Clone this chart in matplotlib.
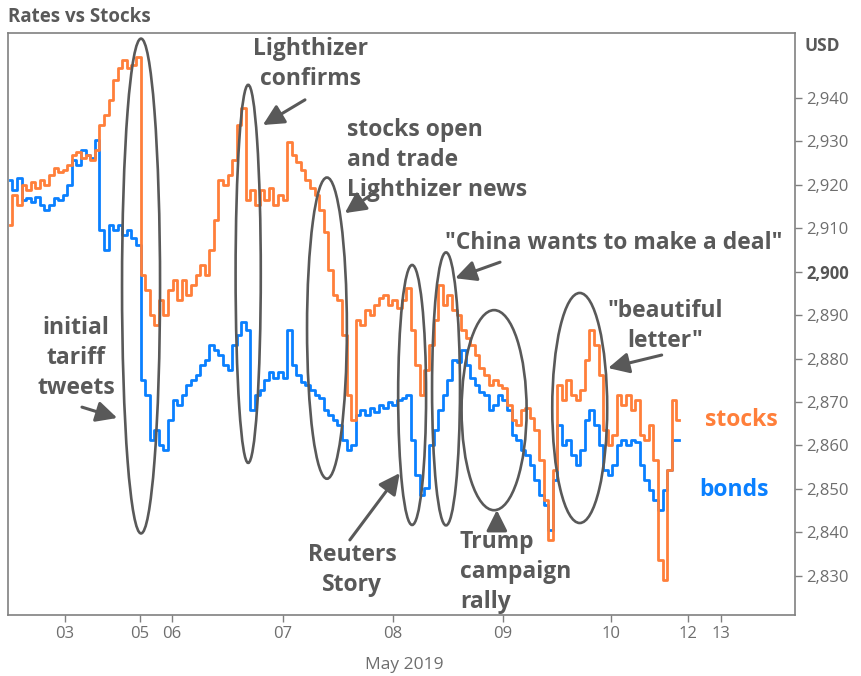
import matplotlib
matplotlib.use("Agg")
import matplotlib.pyplot as plt
from matplotlib.patches import Ellipse
import numpy as np

# trading hours since May 03, one sample per hour
hours = np.arange(-12, 135)

stocks = [
    2910.8, 2917.7, 2915.4, 2920.0, 2918.8, 2920.7, 2919.3, 2921.1, 2920.0, 2922.3,
    2923.9, 2923.0, 2923.4, 2924.6, 2926.9, 2927.6, 2926.2, 2926.9, 2925.7, 2928.0,
    2933.8, 2936.1, 2939.6, 2944.2, 2946.9, 2948.8, 2946.9, 2947.6, 2949.5, 2899.2,
    2895.8, 2890.0, 2887.7, 2893.5, 2890.0, 2895.8, 2898.1, 2893.5, 2898.1, 2894.6,
    2896.9, 2899.2, 2901.5, 2899.2, 2905.0, 2911.9, 2921.1, 2920.0, 2922.3, 2925.7,
    2933.8, 2937.7, 2916.5, 2918.8, 2915.4, 2918.8, 2916.5, 2919.3, 2915.4, 2917.7,
    2916.5, 2929.9, 2926.9, 2925.3, 2923.4, 2921.1, 2919.3, 2917.7, 2914.2, 2909.1,
    2900.4, 2894.6, 2893.5, 2885.4, 2871.6, 2865.8, 2888.9, 2887.7, 2891.2, 2890.0,
    2892.3, 2893.9, 2894.6, 2892.3, 2893.5, 2891.6, 2893.5, 2896.2, 2886.6, 2878.5,
    2871.6, 2877.3, 2883.1, 2888.9, 2896.9, 2892.3, 2894.6, 2891.2, 2890.0, 2886.6,
    2884.7, 2883.1, 2880.8, 2877.8, 2876.2, 2873.9, 2875.0, 2873.9, 2873.2, 2869.3,
    2865.8, 2864.7, 2868.1, 2868.6, 2866.3, 2863.5, 2856.6, 2847.4, 2838.2, 2854.3,
    2873.9, 2870.4, 2875.0, 2871.6, 2870.4, 2872.7, 2879.7, 2886.6, 2883.1, 2876.2,
    2863.5, 2860.1, 2862.4, 2871.6, 2869.3, 2871.6, 2868.1, 2870.4, 2862.4, 2861.2,
    2864.7, 2856.6, 2833.6, 2829.0, 2854.3, 2870.4, 2865.8,
]

bonds = [
    2921.1, 2918.8, 2921.6, 2916.5, 2917.0, 2916.1, 2917.2, 2915.4, 2914.2, 2915.4,
    2917.0, 2916.5, 2917.7, 2920.0, 2925.7, 2924.6, 2928.0, 2926.9, 2926.2, 2930.3,
    2909.6, 2905.0, 2910.8, 2909.6, 2910.8, 2908.5, 2909.6, 2907.8, 2906.2, 2875.0,
    2871.6, 2861.2, 2863.5, 2860.1, 2858.9, 2865.8, 2870.4, 2869.3, 2871.6, 2873.9,
    2875.0, 2876.2, 2878.5, 2879.7, 2883.1, 2881.9, 2880.8, 2878.5, 2877.3, 2883.1,
    2885.4, 2888.4, 2886.6, 2868.1, 2871.6, 2872.7, 2875.0, 2876.9, 2875.5, 2876.9,
    2875.5, 2886.6, 2878.5, 2876.2, 2874.6, 2873.9, 2872.7, 2871.6, 2870.9, 2868.1,
    2867.0, 2865.8, 2864.7, 2861.2, 2858.9, 2860.1, 2867.0, 2868.1, 2867.0, 2868.6,
    2867.7, 2869.3, 2868.6, 2870.0, 2869.3, 2870.4, 2870.9, 2871.6, 2861.2, 2853.2,
    2848.6, 2850.2, 2860.1, 2863.5, 2868.1, 2871.6, 2875.0, 2879.7, 2879.2, 2881.9,
    2878.5, 2875.5, 2873.9, 2872.3, 2871.6, 2868.1, 2869.3, 2871.6, 2870.4, 2868.1,
    2862.4, 2861.2, 2858.9, 2857.8, 2855.5, 2852.0, 2848.6, 2846.2, 2840.5, 2852.0,
    2864.7, 2860.1, 2861.2, 2857.8, 2855.5, 2858.9, 2865.8, 2868.1, 2864.7, 2860.1,
    2854.3, 2853.2, 2855.5, 2860.1, 2861.2, 2860.1, 2861.2, 2860.7, 2855.5, 2852.0,
    2849.7, 2847.4, 2845.1, 2849.7, 2854.3, 2861.2, 2861.2,
]

tick_hours = [0, 16.4, 23.4, 47.6, 71.6, 95.6, 119.2, 136.0, 143.2]
tick_labels = ["03", "05", "06", "07", "08", "09", "10", "12", "13"]
y_ticks = list(range(2830, 2950, 10))

ORANGE = "#ff7f3a"
BLUE = "#0a80ff"
GRAY = "#595959"
TICK = "#6e6e6e"
FONT = "Open Sans"
NOTE_SIZE = 16.5

fig = plt.figure(figsize=(8.61, 6.76), dpi=100)
ax = fig.add_axes([0.0093, 0.0902, 0.914, 0.861])

ax.plot(hours, bonds, color=BLUE, lw=2.0, drawstyle="steps-mid", zorder=2)
ax.plot(hours, stocks, color=ORANGE, lw=2.0, drawstyle="steps-mid", zorder=3)

ax.set_xlim(-12.45, 159.4)
ax.set_ylim(2820.9, 2955.0)

ax.set_xticks(tick_hours)
ax.set_xticklabels(tick_labels)
ax.set_yticks(y_ticks)
ax.set_yticklabels([f"{v:,}" for v in y_ticks])
ax.yaxis.tick_right()
ax.tick_params(axis="both", direction="out", length=5, width=1, color="#808080",
               labelcolor=TICK, labelsize=12)
ax.tick_params(axis="x", pad=3)
ax.tick_params(axis="y", pad=3)
for lab in ax.get_xticklabels() + ax.get_yticklabels():
    lab.set_fontfamily(FONT)
for lab in ax.get_yticklabels():
    if lab.get_text() == "2,900":
        lab.set_fontweight("bold")
        lab.set_color("#555555")

for sp in ax.spines.values():
    sp.set_color("#808080")
    sp.set_linewidth(1.2)

ax.set_xlabel("May 2019", fontsize=12.5, color=TICK, family=FONT)
ax.xaxis.set_label_coords(0.503, -0.072)

fig.text(0.009, 0.975, "Rates vs Stocks", fontsize=13.5, fontweight="bold",
         color=GRAY, family=FONT, va="center", ha="left")
ax.text(1.012, 0.978, "USD", transform=ax.transAxes, fontsize=12.5, fontweight="bold",
        color=GRAY, family=FONT, va="center", ha="left")

# circled events: (center hour, center value, width, height)
ellipses = [
    (16.6, 2896.7, 8.3, 114.0),
    (40.0, 2899.5, 5.5, 87.1),
    (57.2, 2887.0, 8.7, 69.4),
    (75.8, 2871.6, 6.1, 59.9),
    (83.2, 2873.0, 6.1, 62.9),
    (93.7, 2868.1, 14.2, 46.1),
    (112.4, 2868.6, 12.0, 53.0),
]
for cx, cy, w, h in ellipses:
    ax.add_patch(Ellipse((cx, cy), w, h, fill=False, edgecolor=GRAY, lw=1.9, zorder=5))

notes = [
    ("Lighthizer\nconfirms", 53.5, 2947.9, "center"),
    ("stocks open\nand trade\nLighthizer news", 61.6, 2925.7, "left"),
    ("\"China wants to make a deal\"", 83.0, 2906.6, "left"),
    ("initial\ntariff\ntweets", 2.4, 2880.1, "center"),
    ("Reuters\nStory", 62.7, 2831.3, "center"),
    ("Trump\ncampaign\nrally", 86.2, 2830.8, "left"),
    ("\"beautiful\nletter\"", 131.0, 2887.5, "center"),
]
for txt, x, y, ha in notes:
    ax.text(x, y, txt, fontsize=NOTE_SIZE, fontweight="bold", color=GRAY, family=FONT,
            ha=ha, va="center", ma=ha, linespacing=1.32, zorder=6)

arrows = [
    ((52.4, 2939.6), (43.2, 2933.8)),
    ((68.3, 2918.8), (61.1, 2913.5)),
    ((95.0, 2902.2), (85.2, 2898.5)),
    ((3.7, 2868.8), (11.4, 2866.3)),
    ((62.2, 2838.2), (73.1, 2853.6)),
    ((94.3, 2840.5), (94.3, 2845.1)),
    ((130.3, 2880.8), (118.6, 2877.8)),
]
for tail, head in arrows:
    ax.annotate("", xy=head, xytext=tail, zorder=6,
                arrowprops=dict(arrowstyle="-|>,head_length=0.7,head_width=0.35",
                                mutation_scale=18, color=GRAY, lw=2.2,
                                shrinkA=0, shrinkB=0))

ax.text(139.7, 2865.8, "stocks", fontsize=NOTE_SIZE, fontweight="bold", color=ORANGE,
        family=FONT, ha="left", va="center")
ax.text(138.6, 2849.7, "bonds", fontsize=NOTE_SIZE, fontweight="bold", color=BLUE,
        family=FONT, ha="left", va="center")

fig.savefig("out.png", dpi=100)
